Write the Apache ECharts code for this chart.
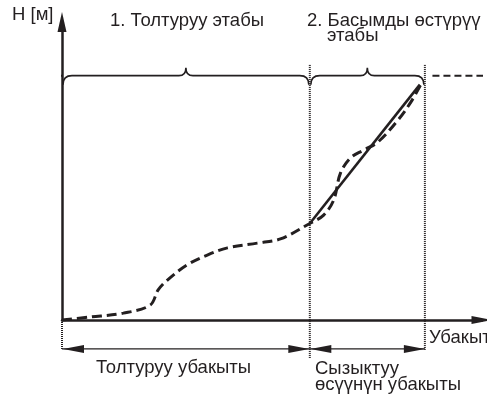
<!DOCTYPE html>
<html>
<head>
<meta charset="utf-8">
<script src="https://cdn.jsdelivr.net/npm/echarts@6/dist/echarts.min.js"></script>
<style>
  html, body { margin: 0; padding: 0; background: #fff; }
  #chart { width: 487px; height: 401px; }
</style>
</head>
<body>
<div id="chart"></div>
<script>
// Filling stage, then pressure-growth stage (head H vs time)
const phaseBounds = [0, 59.0, 86.4];          // start, end of filling, end of linear growth
const topLevel = 82.0;                        // target head level
const fillCurveX = [0, 6.7, 14.6, 21.0, 22.9, 25.1, 29.8, 34.6, 39.4, 46.5, 52.0, 59.0,
                    62.3, 64.7, 66.3, 68.7, 71.8, 75.2, 80.0, 83.1, 85.4];
const fillCurveY = [0, 1.0, 2.3, 5.0, 10.1, 13.4, 18.5, 21.8, 24.2, 25.8, 27.2, 32.4,
                    35.2, 40.3, 49.3, 54.4, 57.0, 59.7, 67.1, 73.2, 78.9];
const linearX = [59.0, 85.2];
const linearY = [32.4, 79.0];
const levelLeftX = [-2.9, 0];
const levelRightX = [88.2, 101.3];
const dimLevel = -9.7;                        // level of the duration arrows below the time axis
const dividerTop = 85.6;
const dividerBottoms = [-10.0, -12.9, -10.0];

const INK = '#231f20';
const FONT = '"Liberation Sans", Arial, sans-serif';
const FS = 18.5;

const fillData = fillCurveX.map((x, i) => [x, fillCurveY[i]]);
const linearData = linearX.map((x, i) => [x, linearY[i]]);

function brace(api, a, b, yv) {
  const p0 = api.coord([a, yv]);
  const p1 = api.coord([b, yv]);
  const y = p0[1];
  const xa = p0[0] + 1, xb = p1[0] - 1;
  const m = (xa + xb) / 2;
  const r = 9, d = 9, h = 8, rt = 7;
  const path =
    `M${xa},${y + d} Q${xa},${y} ${xa + r},${y} ` +
    `L${m - rt},${y} Q${m},${y} ${m},${y - h} ` +
    `Q${m},${y} ${m + rt},${y} ` +
    `L${xb - r},${y} Q${xb},${y} ${xb},${y + d}`;
  return {
    type: 'path',
    shape: { pathData: path },
    style: { stroke: INK, fill: null, lineWidth: 1.6 }
  };
}

function dotted(api, x, y0, y1) {
  const a = api.coord([x, y0]);
  const b = api.coord([x, y1]);
  return {
    type: 'line',
    shape: { x1: a[0], y1: a[1], x2: b[0], y2: b[1] },
    style: { stroke: INK, lineWidth: 2, lineDash: [1, 1] }
  };
}

function arrowHead(tip, dir) {
  const len = 21, half = 4;
  const bx = tip[0] - dir * len;
  return {
    type: 'polygon',
    shape: { points: [[tip[0], tip[1]], [bx, tip[1] - half], [bx, tip[1] + half]] },
    style: { fill: INK }
  };
}

function renderNotes(params, api) {
  const children = [];
  // phase braces
  children.push(brace(api, phaseBounds[0], phaseBounds[1], topLevel));
  children.push(brace(api, phaseBounds[1], phaseBounds[2], topLevel));
  // phase dividers
  children.push(dotted(api, phaseBounds[0], 0, dividerBottoms[0]));
  children.push(dotted(api, phaseBounds[1], dividerTop, dividerBottoms[1]));
  children.push(dotted(api, phaseBounds[2], dividerTop, dividerBottoms[2]));
  // duration arrows
  const l = api.coord([phaseBounds[0], dimLevel]);
  const mid = api.coord([phaseBounds[1], dimLevel]);
  const rgt = api.coord([phaseBounds[2], dimLevel]);
  children.push({
    type: 'line',
    shape: { x1: l[0], y1: l[1], x2: rgt[0], y2: rgt[1] },
    style: { stroke: INK, lineWidth: 1.2 }
  });
  children.push(arrowHead([l[0] + 1, l[1]], -1));
  children.push(arrowHead([mid[0] - 0.5, mid[1]], 1));
  children.push(arrowHead([mid[0] + 0.5, mid[1]], -1));
  children.push(arrowHead([rgt[0], rgt[1]], 1));
  return { type: 'group', children };
}

const chart = echarts.init(document.getElementById('chart'), null, { renderer: 'canvas' });

const label = (text, left, top) => ({
  type: 'text', left, top, style: { text, font: `${FS}px ${FONT}`, fill: INK }
});

chart.setOption({
  animation: false,
  backgroundColor: '#fff',
  grid: { left: 62, right: 5, top: 22, bottom: 81, containLabel: false },
  xAxis: {
    type: 'value', min: 0, max: 100,
    axisLine: { show: true, onZero: false, symbol: ['none', 'triangle'], symbolSize: [8, 21],
      lineStyle: { color: INK, width: 2.5 } },
    axisTick: { show: false }, axisLabel: { show: false }, splitLine: { show: false }
  },
  yAxis: {
    type: 'value', min: 0, max: 100,
    axisLine: { show: true, onZero: false, symbol: ['none', 'triangle'], symbolSize: [9, 20],
      lineStyle: { color: INK, width: 2.5 } },
    axisTick: { show: false }, axisLabel: { show: false }, splitLine: { show: false }
  },
  series: [
    {
      type: 'line', data: fillData, smooth: 0.35, symbol: 'none', clip: false,
      lineStyle: { color: INK, width: 3, type: [10, 5] }, z: 3
    },
    {
      type: 'line', data: linearData, symbol: 'none', clip: false,
      lineStyle: { color: INK, width: 2.6 }, z: 4
    },
    {
      type: 'line', data: levelRightX.map(x => [x, topLevel]), symbol: 'none', clip: false,
      lineStyle: { color: INK, width: 2, type: [7, 4] }
    },
    {
      type: 'line', data: levelLeftX.map(x => [x, topLevel]), symbol: 'none', clip: false,
      lineStyle: { color: INK, width: 2, type: [5, 2.5] }
    },
    {
      type: 'custom', data: [[0, 0]], clip: false, renderItem: renderNotes, z: 5
    }
  ],
  graphic: [
    label('H [м]', 12, 5),
    label('1. Толтуруу этабы', 110, 11),
    label('2. Басымды өстүрүү', 307, 11),
    label('этабы', 327, 26),
    label('Убакыт', 429, 328),
    label('Толтуруу убакыты', 96, 358),
    label('Сызыктуу', 315, 359),
    label('өсүүнүн убакыты', 315, 375)
  ]
});
</script>
</body>
</html>
